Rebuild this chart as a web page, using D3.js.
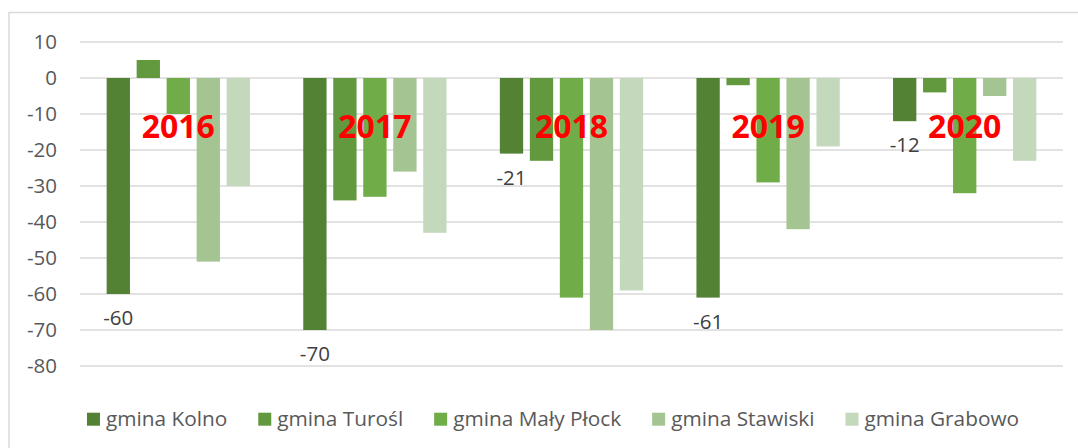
<!DOCTYPE html>
<html>
<head>
<meta charset="utf-8">
<script src="https://cdn.jsdelivr.net/npm/d3@7"></script>
<style>
  body { margin: 0; background: #fff; }
  text { font-family: "Open Sans", sans-serif; }
</style>
</head>
<body>
<script>
let width = 1078
let height = 448

// data
const years = ['2016', '2017', '2018', '2019', '2020']
const gminy = ['gmina Kolno', 'gmina Turośl', 'gmina Mały Płock', 'gmina Stawiski', 'gmina Grabowo']
const kolno = [-60, -70, -21, -61, -12]
const turosl = [5, -34, -23, -2, -4]
const malyPlock = [-10, -33, -61, -29, -32]
const stawiski = [-51, -26, -70, -42, -5]
const grabowo = [-30, -43, -59, -19, -23]
const yTicks = [10, 0, -10, -20, -30, -40, -50, -60, -70, -80]

const colors = ['#548235', '#62993e', '#70ac47', '#a4c591', '#c4d8bb']
const seriesValues = [kolno, turosl, malyPlock, stawiski, grabowo]

const svg = d3.select('body')
    .append('svg')
    .attr('width', width)
    .attr('height', height)

// outer chart frame (runs past the right/bottom edge like in the picture)
svg.append('rect')
    .attr('x', 9)
    .attr('y', 12.5)
    .attr('width', 1090)
    .attr('height', 460)
    .attr('fill', 'none')
    .attr('stroke', '#d9d9d9')
    .attr('stroke-width', 1.5)

const x0 = d3.scaleBand()
    .domain(years)
    .range([80, 1063])

const x1 = d3.scaleBand()
    .domain(gminy)
    .range([0, x0.bandwidth()])
    .paddingInner(0.223)
    .paddingOuter(0.888)

const y = d3.scaleLinear()
    .domain([-80, 10])
    .range([366, 42])

// gridlines
svg.append('g')
    .selectAll('line')
    .data(yTicks)
    .enter()
    .append('line')
        .attr('x1', 80)
        .attr('x2', 1063)
        .attr('y1', d => y(d))
        .attr('y2', d => y(d))
        .attr('stroke', '#d9d9d9')
        .attr('stroke-width', 1.5)

// y axis labels (plain hyphen for negatives, like Excel)
const yAxis = svg.append('g')
    .attr('transform', 'translate(57,0)')
    .call(d3.axisLeft(y).tickValues(yTicks).tickSize(0).tickPadding(0).tickFormat(d => String(d)))
yAxis.select('.domain').remove()
yAxis.selectAll('text')
    .attr('fill', '#595959')
    .style('font-size', '20.5px')
    .style('font-family', '"Open Sans", sans-serif')

// bars
const groups = svg.append('g')
    .selectAll('g')
    .data(years)
    .enter()
    .append('g')
        .attr('transform', d => 'translate(' + x0(d) + ',0)')

groups.selectAll('rect')
    .data((yr, i) => gminy.map((g, j) => ({ gmina: g, value: seriesValues[j][i], color: colors[j] })))
    .enter()
    .append('rect')
        .attr('x', d => x1(d.gmina))
        .attr('width', x1.bandwidth())
        .attr('y', d => Math.min(y(0), y(d.value)))
        .attr('height', d => Math.abs(y(d.value) - y(0)))
        .attr('fill', d => d.color)

// value labels only for gmina Kolno
svg.append('g')
    .selectAll('text')
    .data(years)
    .enter()
    .append('text')
        .attr('x', (d, i) => x0(d) + x1(gminy[0]) + x1.bandwidth() / 2)
        .attr('y', (d, i) => y(kolno[i]) + 31)
        .attr('text-anchor', 'middle')
        .attr('fill', '#404040')
        .style('font-size', '20.5px')
        .text((d, i) => kolno[i])

// red year labels
svg.append('g')
    .selectAll('text')
    .data(years)
    .enter()
    .append('text')
        .attr('x', d => x0(d) + x0.bandwidth() / 2)
        .attr('y', y(-16.6))
        .attr('text-anchor', 'middle')
        .attr('fill', '#ff0000')
        .style('font-size', '32px')
        .style('font-weight', 'bold')
        .text(d => d)

// legend
const legend = svg.append('g')
const items = legend.selectAll('g')
    .data(gminy)
    .enter()
    .append('g')
items.append('rect')
    .attr('width', 13)
    .attr('height', 13)
    .attr('y', -13)
    .attr('fill', (d, i) => colors[i])
items.append('text')
    .attr('x', 19)
    .attr('y', 0)
    .attr('fill', '#595959')
    .style('font-size', '20.8px')
    .text(d => d)

let pos = 0
items.each(function() {
    const w = d3.select(this).select('text').node().getComputedTextLength()
    d3.select(this).attr('transform', 'translate(' + pos + ',0)')
    pos += 19 + w + 31
})
const total = pos - 31
legend.attr('transform', 'translate(' + (553 - total / 2) + ',425.7)')
</script>
</body>
</html>
